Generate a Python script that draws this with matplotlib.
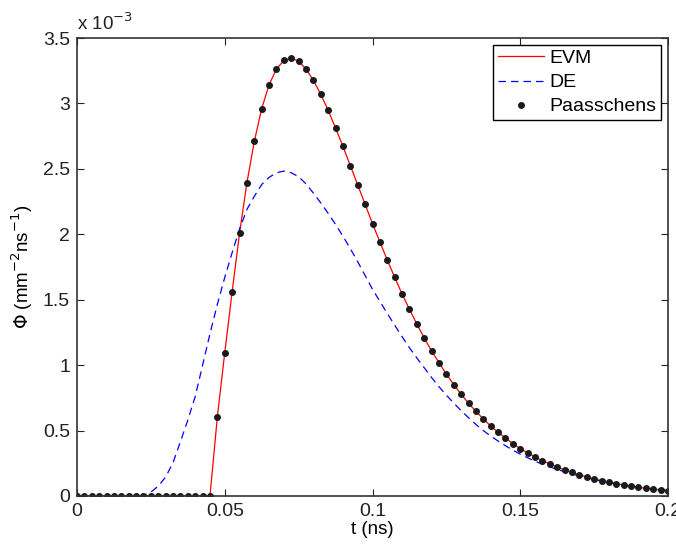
import numpy as np
import matplotlib.pyplot as plt

plt.rcParams['font.family'] = ['Liberation Sans', 'DejaVu Sans']

# time grid (ns), one sample every 0.0025 ns
t = np.round(np.arange(0, 81) * 0.0025, 4)

# fluence values in units of 1e-3 mm^-2 ns^-1
evm = [0, 0, 0, 0, 0, 0, 0, 0, 0, 0,
       0, 0, 0, 0, 0, 0, 0, 0, 0, 0.606,
       1.095, 1.561, 2.007, 2.394, 2.710, 2.960, 3.143, 3.263, 3.329, 3.345,
       3.322, 3.263, 3.176, 3.069, 2.947, 2.812, 2.672, 2.524, 2.377, 2.229,
       2.081, 1.941, 1.803, 1.671, 1.544, 1.427, 1.314, 1.207, 1.108, 1.019,
       0.932, 0.851, 0.777, 0.708, 0.647, 0.588, 0.535, 0.486, 0.443, 0.400,
       0.362, 0.329, 0.298, 0.270, 0.245, 0.222, 0.199, 0.181, 0.163, 0.145,
       0.130, 0.117, 0.105, 0.094, 0.084, 0.076, 0.066, 0.059, 0.053, 0.046,
       0.041]

de = [0, 0, 0, 0, 0, 0, 0, 0, 0, 0.005,
      0.03, 0.075, 0.145, 0.255, 0.415, 0.58, 0.76, 1.0, 1.24, 1.465,
      1.67, 1.86, 2.04, 2.19, 2.29, 2.38, 2.435, 2.47, 2.483, 2.47,
      2.44, 2.385, 2.315, 2.24, 2.16, 2.075, 1.985, 1.89, 1.79, 1.685,
      1.58, 1.487, 1.395, 1.305, 1.218, 1.133, 1.055, 0.98, 0.905, 0.835,
      0.77, 0.71, 0.652, 0.598, 0.547, 0.50, 0.458, 0.42, 0.384, 0.35,
      0.32, 0.292, 0.266, 0.243, 0.222, 0.203, 0.185, 0.168, 0.153, 0.139,
      0.126, 0.114, 0.103, 0.093, 0.084, 0.076, 0.068, 0.061, 0.055, 0.049,
      0.044]

paasschens = evm

fig = plt.figure(figsize=(6.76, 5.46), dpi=100)
ax = fig.add_axes([0.1139, 0.0916, 0.8743, 0.8388])

ax.plot(t, evm, color='red', lw=0.9, label='EVM')
ax.plot(t, de, color='blue', lw=0.9, dashes=(6, 4), label='DE')
ax.plot(t, paasschens, ls='none', marker='o', ms=4, color='#1a1a1a', label='Paasschens')

ax.set_xlim(0, 0.2)
ax.set_ylim(0, 3.5)
ax.set_xticks([0, 0.05, 0.1, 0.15, 0.2])
ax.set_xticklabels(['0', '0.05', '0.1', '0.15', '0.2'])
ax.set_yticks(np.arange(0, 3.51, 0.5))
ax.set_yticklabels(['0', '0.5', '1', '1.5', '2', '2.5', '3', '3.5'])
ax.tick_params(direction='in', top=True, right=True, length=5, labelsize=14,
               colors='#222222', pad=5)
for s in ax.spines.values():
    s.set_linewidth(1.2)
    s.set_color('#333333')

ax.set_xlabel('t (ns)', fontsize=13.5, labelpad=1)
ax.set_ylabel(r'$\Phi$ (mm$^{-2}$ns$^{-1}$)', fontsize=13.5, labelpad=6)
ax.text(0.0, 1.008, r'x 10$^{-3}$', transform=ax.transAxes, fontsize=13.5,
        ha='left', va='bottom', color='#222222')

leg = ax.legend(loc='upper right', fontsize=14, fancybox=False, framealpha=1,
                edgecolor='black', borderpad=0.25, labelspacing=0.33,
                handlelength=2.4, handletextpad=0.25, borderaxespad=0.35)
leg.get_frame().set_linewidth(1.0)

fig.savefig('out.png', dpi=100)
